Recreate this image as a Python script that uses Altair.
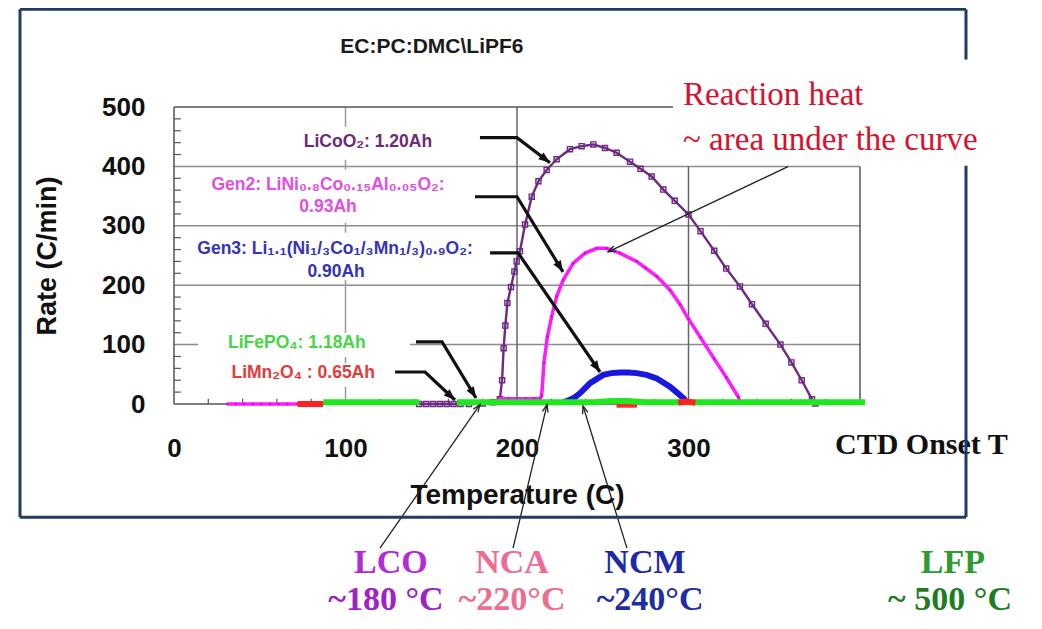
import math
import altair as alt
import pandas as pd

# ---------------- values ----------------
# LiCoO2 : 1.20Ah  (purple, square markers)
lco_temp = [143, 147, 151, 155, 159, 163, 167, 172, 180, 186, 190, 191.3, 192.2, 193.2, 194.4, 196.5,
            198.5, 199.8, 201.7, 204.7, 208.6, 212.5, 217.3, 223.1, 230.9, 237.7, 244.5, 251.3, 258.1,
            265.9, 272, 278.5, 285.3, 292, 300, 307, 315, 322, 330, 337, 345, 353.6, 360, 366, 372, 374]
lco_rate = [0, 0, 0, 0, 0, 0, 0, 0, 1, 3, 8, 40, 94, 132, 170, 197,
            223, 240, 257, 302, 349, 375, 394, 412, 429, 434, 437, 431, 423,
            408, 396, 383, 361, 342, 319, 291, 258, 228, 198, 168, 135, 100, 70, 40, 8, 1]

# Gen2 LiNi0.8Co0.15Al0.05O2 : 0.93Ah (magenta)
nca_low_temp = [31, 36, 41, 46, 51, 56, 61, 66, 72]
nca_low_rate = [0, 0, 0, 0, 0, 0, 0, 0, 0]
nca_temp = [189, 195, 200, 205, 210, 213.5, 214.4, 215.7, 217.7, 220.2, 223.1, 227, 232.8, 239.7,
            246.5, 252.3, 260, 269.8, 275, 281.5, 289.2, 295, 300, 307, 315, 322, 329, 330.5]
nca_rate = [9, 9, 9, 9, 9, 9, 14, 69, 113, 147, 181, 209, 237, 254,
            262, 262, 254, 240, 229, 215, 192, 168, 143, 112, 76, 45, 12, 1]

# Gen3 Li1.1(Ni1/3Co1/3Mn1/3)0.9O2 : 0.90Ah (blue)
ncm_temp = [227, 230, 233, 236.7, 242.6, 250.3, 255, 260, 265, 269.8, 275.5, 281.5, 286, 289.2, 293, 297, 299]
ncm_rate = [3, 6, 10, 18, 35, 49, 52, 53, 53, 52, 49, 43, 35, 29, 20, 10, 3]

# LiFePO4 : 1.18Ah (green)
lfp_temp_a = [87, 143]
lfp_rate_a = [3, 3]
lfp_temp_b = [165, 200, 245, 255, 265, 275, 320, 403]
lfp_rate_b = [3, 3, 3, 5, 5, 3, 3, 3]

# LiMn2O4 : 0.65Ah (red)
lmo_temp_a = [72, 87]
lmo_rate_a = [0, 0]
lmo_temp_b = [294, 299, 304]
lmo_rate_b = [2, 4, 2]
lmo_temp_c = [258, 270]
lmo_rate_c = [-2, -2]

x_tick_values = [0, 100, 200, 300]
y_tick_values = [0, 100, 200, 300, 400, 500]

# ---------------- annotation texts and anchors (data units) ----------------
label_text = ["LiCoO\u2082: 1.20Ah",
              "Gen2: LiNi\u2080.\u2088Co\u2080.\u2081\u2085Al\u2080.\u2080\u2085O\u2082:", "0.93Ah",
              "Gen3: Li\u2081.\u2081(Ni\u2081/\u2083Co\u2081/\u2083Mn\u2081/\u2083)\u2080.\u2089O\u2082:", "0.90Ah"]
label_x = [113.1, 89.8, 89.8, 93.9, 94.5]
label_y = [441.6, 369.1, 332.0, 261.3, 222.5]
label_col = ["#6b2b78", "#e04fe0", "#e04fe0", "#3434b8", "#3434b8"]

left_label_text = ["LiFePO\u2084: 1.18Ah", "LiMn\u2082O\u2084 : 0.65Ah"]
left_label_x = [31.5, 33.5]
left_label_y = [103.3, 52.8]
left_label_col = ["#45d545", "#e23c3c"]

bottom_text = ["LCO", "~180 \u00b0C", "NCA", "~220\u00b0C", "NCM", "~240\u00b0C", "LFP", "~ 500 \u00b0C"]
bottom_x = [126.5, 123.6, 197.1, 197.1, 274.6, 277.6, 454.2, 452.5]
bottom_y = [-267.0, -330.4, -267.0, -330.4, -267.0, -330.4, -267.0, -330.4]
bottom_col = ["#b52ad8", "#a021c6", "#f06b93", "#ee6d8e", "#1c2aa6", "#1f2ea0", "#2f9a2f", "#1f7d1f"]

red_text = ["Reaction heat", "~ area under the curve"]
red_x = [296.8, 296.8]
red_y = [520.8, 445.0]

# thick label arrows (polylines)
thick_arrows = {
    "a1": [(178.4, 448.3), (200.0, 448.3), (219.2, 406.2)],
    "a2": [(175.5, 348.9), (200.0, 348.9), (226.8, 222.5)],
    "a3": [(184.3, 254.5), (200.6, 254.5), (248.4, 53.9)],
    "a4": [(141.1, 104.5), (156.3, 104.5), (176.1, 10.1)],
    "a5": [(128.9, 53.9), (146.4, 53.9), (163.8, 6.7)],
}
# thin arrows
thin_arrows = {
    "r1": [(358.0, 399.5), (253.1, 256.2)],
    "l1": [(120.1, -242.7), (178.4, -1.0)],
    "l2": [(197.7, -242.7), (217.5, -1.0)],
    "l3": [(264.1, -242.7), (238.5, -3.4)],
}

# white backgrounds behind the in-plot labels
box_x = [67.6, 15.2, 7.0, 14.0, 26.8]
box_x2 = [158.0, 163.8, 181.3, 137.6, 127.1]
box_y = [411.3, 305.1, 209.0, 79.2, 28.7]
box_y2 = [466.9, 394.4, 288.2, 119.7, 69.1]

# ---------------- layout ----------------
W, H = 686, 297
XMAX, YMAX = 400, 500
SX, SY = W / XMAX, H / YMAX

SANS = "Liberation Sans"
SERIF = "Liberation Serif"

X = alt.X("x:Q", scale=alt.Scale(domain=[0, XMAX], nice=False, zero=False),
          axis=alt.Axis(values=x_tick_values, format="d", title="Temperature (C)", grid=False,
                        ticks=False, tickSize=0, domain=False, labelFlush=False, labelOverlap=False,
                        labelFont=SANS, labelFontWeight="bold", labelFontSize=26, labelColor="#111111",
                        labelPadding=31, titleFont=SANS, titleFontWeight="bold", titleFontSize=28,
                        titleColor="#111111", titlePadding=20))
Y = alt.Y("y:Q", scale=alt.Scale(domain=[0, YMAX], nice=False, zero=False),
          axis=alt.Axis(values=y_tick_values, format="d", title="Rate (C/min)", grid=False,
                        ticks=False, tickSize=0, domain=False, labelFlush=False, labelOverlap=False,
                        labelFont=SANS, labelFontWeight="bold", labelFontSize=26, labelColor="#111111",
                        labelPadding=29, titleFont=SANS, titleFontWeight="bold", titleFontSize=27,
                        titleColor="#111111", titlePadding=40))


def df_line(xs, ys, seg="s"):
    return pd.DataFrame({"x": xs, "y": ys, "seg": seg, "o": list(range(len(xs)))})


def rules(rows, color, width):
    d = pd.DataFrame(rows, columns=["x", "x2", "y", "y2"])
    return alt.Chart(d).mark_rule(color=color, strokeWidth=width).encode(
        x=X, x2="x2:Q", y=Y, y2="y2:Q")


def curve(df, color, width, **kw):
    return alt.Chart(df).mark_line(color=color, strokeWidth=width, **kw).encode(
        x=X, y=Y, detail="seg:N", order="o:Q")


layers = []

# grid lines
layers.append(rules([(0, XMAX, v, v) for v in [100, 200, 300, 400]], "#8c8c8c", 1.5))
layers.append(rules([(100, 100, 0, 500)], "#9a9a9a", 1.5))
layers.append(rules([(200, 200, 0, 500), (300, 300, 0, 400)], "#666666", 1.5))
# minor ticks
ytick_rows = [(0, 4, v, v) for v in range(20, 500, 20) if v % 100]
xtick_rows = [(v, v, 0, 9) for v in range(20, 400, 20) if v % 100]
layers.append(rules(ytick_rows + xtick_rows, "#555555", 1.2))
# plot border (top cut where the red note sits)
layers.append(rules([(0, 0, 0, 500), (0, XMAX, 0, 0), (XMAX, XMAX, 0, 400), (0, 291, 500, 500)],
                    "#555555", 1.5))

# white label backgrounds
boxes = pd.DataFrame({"x": box_x, "x2": box_x2, "y": box_y, "y2": box_y2})
layers.append(alt.Chart(boxes).mark_rect(color="white").encode(x=X, x2="x2:Q", y=Y, y2="y2:Q"))

# curves
layers.append(curve(df_line(lco_temp, lco_rate), "#6d2a83", 2.4,
                    point=alt.OverlayMarkDef(shape="square", filled=False, size=26, strokeWidth=1.4,
                                             color="#6d2a83")))
nca_df = pd.concat([df_line(nca_low_temp, nca_low_rate, "low"), df_line(nca_temp, nca_rate, "main")])
layers.append(curve(nca_df, "#ff1aff", 3.5,
                    point=alt.OverlayMarkDef(filled=True, size=7, color="#d010d0")))
layers.append(curve(df_line(ncm_temp, ncm_rate), "#1818e0", 6))
layers.append(curve(df_line(lmo_temp_c, lmo_rate_c, "c"), "#ff2a2a", 5))
lfp_df = pd.concat([df_line(lfp_temp_a, lfp_rate_a, "a"), df_line(lfp_temp_b, lfp_rate_b, "b")])
layers.append(curve(lfp_df, "#22e622", 6))
lmo_df = pd.concat([df_line(lmo_temp_a, lmo_rate_a, "a"), df_line(lmo_temp_b, lmo_rate_b, "b")])
layers.append(curve(lmo_df, "#ff2020", 6))


# arrows
def arrow_frames(arrows):
    rows, heads = [], []
    for k, pts in arrows.items():
        for i, (px, py) in enumerate(pts):
            rows.append({"x": px, "y": py, "seg": k, "o": i})
        (x1, y1), (x2, y2) = pts[-2], pts[-1]
        dxp = (x2 - x1) * SX
        dyp = -(y2 - y1) * SY
        ang = math.degrees(math.atan2(dxp, -dyp)) % 360
        heads.append({"x": x2, "y": y2, "ang": ang})
    return pd.DataFrame(rows), pd.DataFrame(heads)


ta, th = arrow_frames(thick_arrows)
layers.append(curve(ta, "#111111", 3.2, strokeJoin="miter"))
layers.append(alt.Chart(th).mark_point(shape="M0,0 L0.5,1.3 L-0.5,1.3 Z", filled=True, size=300,
                                       color="#111111", opacity=1).encode(
    x=X, y=Y, angle=alt.Angle("ang:Q", scale=None)))

na, nh = arrow_frames(thin_arrows)
layers.append(curve(na, "#222222", 1.3))
layers.append(alt.Chart(nh).mark_point(shape="M-0.45,1.2 L0,0 L0.45,1.2", filled=False, size=160,
                                       color="#222222", strokeWidth=1.3, opacity=1).encode(
    x=X, y=Y, angle=alt.Angle("ang:Q", scale=None)))


# texts
def texts(xs, ys, ts, cols, **mk):
    d = pd.DataFrame({"x": xs, "y": ys, "t": ts, "c": cols})
    return alt.Chart(d).mark_text(**mk).encode(x=X, y=Y, text="t:N", color=alt.Color("c:N", scale=None))


layers.append(texts(label_x, label_y, label_text, label_col, font=SANS, fontWeight="bold", fontSize=17.5,
                    align="center", baseline="middle"))
layers.append(texts(left_label_x, left_label_y, left_label_text, left_label_col, font=SANS,
                    fontWeight="bold", fontSize=17.5, align="left", baseline="middle"))
layers.append(texts([150.4], [601.7], ["EC:PC:DMC\\LiPF6"], ["#1a1a1a"], font=SANS, fontWeight="bold",
                    fontSize=21, align="center", baseline="middle"))
layers.append(texts(red_x, red_y, red_text, ["#d8102c", "#d8102c"], font=SERIF, fontSize=33,
                    align="left", baseline="middle"))
layers.append(texts([385.4], [-69.1], ["CTD Onset T"], ["#111111"], font=SERIF, fontWeight="bold",
                    fontSize=30, align="left", baseline="middle"))
layers.append(texts(bottom_x, bottom_y, bottom_text, bottom_col, font=SERIF, fontWeight="bold",
                    fontSize=34, align="center", baseline="middle"))

# outer slide frame (gap on the right where the note sits)
FL, FR, FT, FB = -89.8, 461.8, 664.5, -190.5
layers.append(rules([(FL, FR, FT, FT), (FL, FR, FB, FB), (FL, FL, FB, FT),
                     (FR, FR, 579.8, FT), (FR, FR, FB, 401.1)], "#1f3c64", 3))

chart = alt.layer(*layers).properties(
    width=W, height=H,
    autosize=alt.AutoSizeParams(type="none"),
    padding={"left": 166, "top": 99, "right": 166, "bottom": 216},
    background="white",
).configure_view(stroke=None)

chart.save("out.html", embed_options={"renderer": "svg", "actions": False})
